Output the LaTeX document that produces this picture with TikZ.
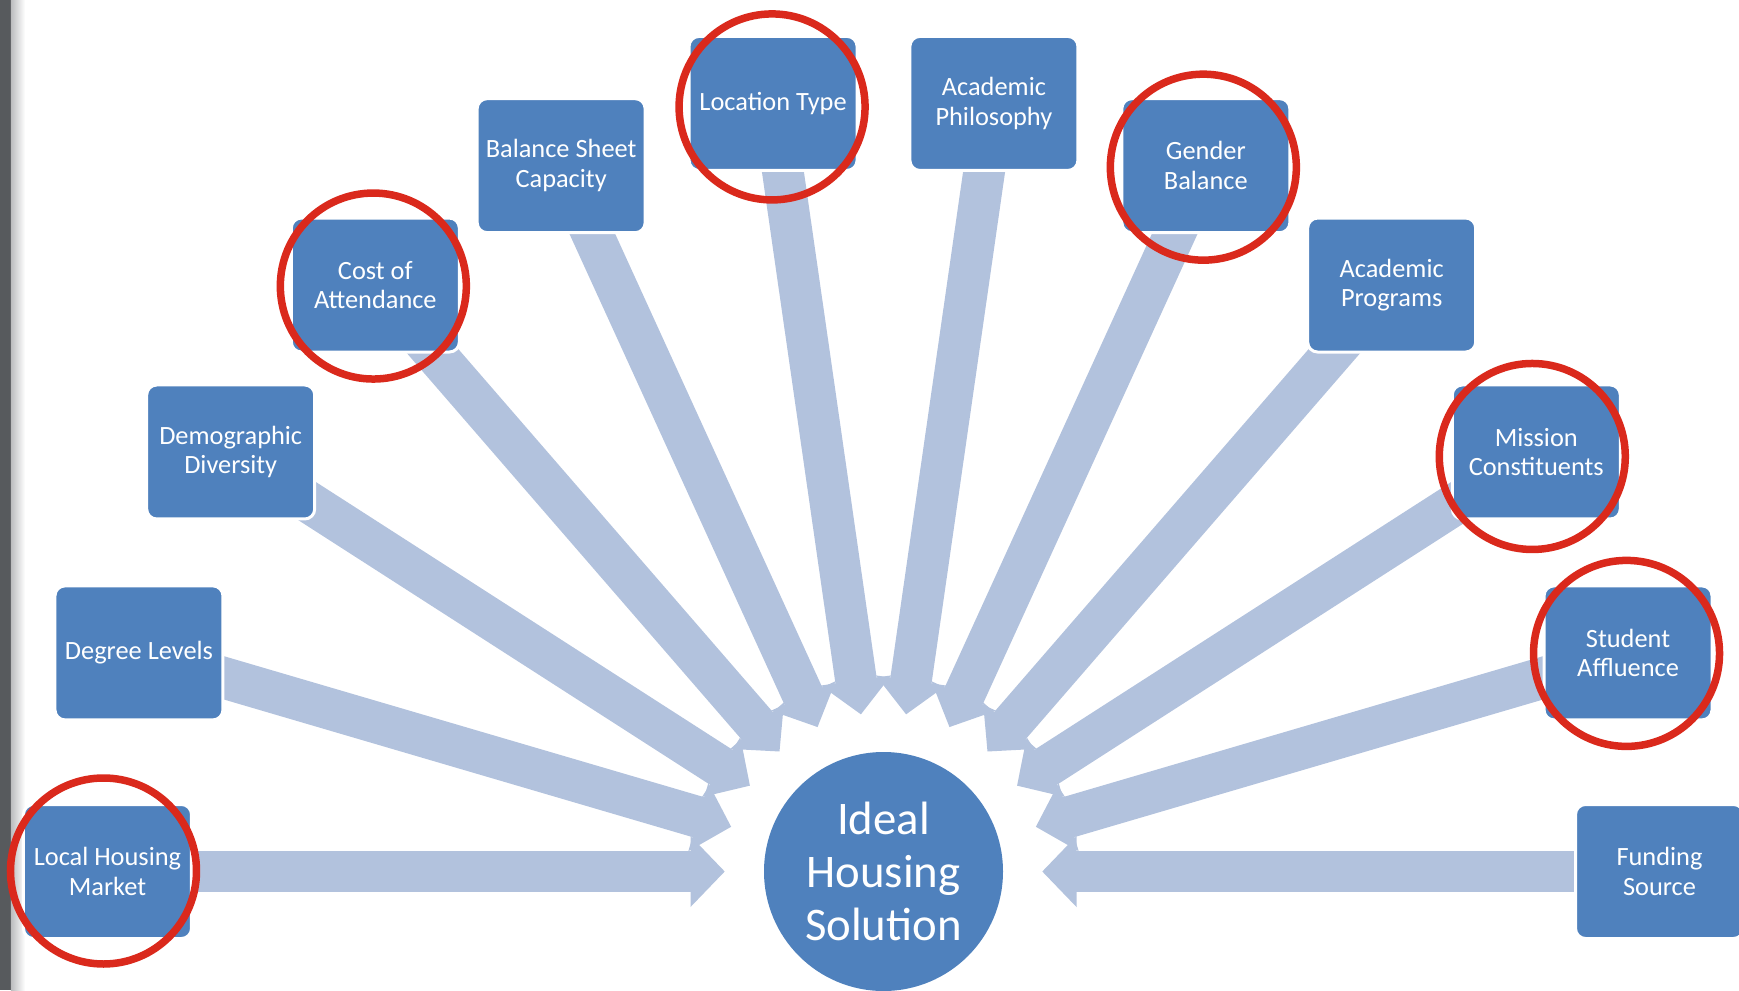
\documentclass[tikz,border=0pt]{standalone}
\usepackage{fontspec}
\setmainfont{Carlito}
\usetikzlibrary{arrows.meta,backgrounds}
\definecolor{factorblue}{RGB}{79,129,189}
\definecolor{spokeblue}{RGB}{178,194,221}
\definecolor{markred}{RGB}{218,41,28}
\definecolor{margingray}{RGB}{87,90,93}

\begin{document}
\begin{tikzpicture}[
    factor box/.style={rectangle, rounded corners=1mm, fill=factorblue, draw=white, line width=0.3mm,
      minimum width=1.68cm, minimum height=1.34cm, inner sep=1pt, align=center, text=white,
      font=\fontsize{7.5}{8.4}\selectfont},
    hub/.style={circle, fill=factorblue, minimum size=2.39cm, inner sep=0pt, align=center, text=white,
      font=\fontsize{13.3}{15.1}\selectfont},
    spoke/.style={draw=spokeblue, line width=4.16mm, -{Triangle[length=3.43mm,width=6.9mm]}, shorten >=3.85mm},
    mark ring/.style={draw=markred, line width=0.75mm}]
	\useasboundingbox (-8.835,-1.185) rectangle (8.555,8.715);

	% Dark page edge on the left.
	\fill [margingray] (-8.835,-1.185) rectangle (-8.725,8.715);
	\shade [left color=margingray!40, right color=white] (-8.725,-1.185) rectangle (-8.585,8.715);

	\node [hub] (hub) at (0,0) {Ideal\\Housing\\Solution};

	% Twelve factors on a half circle, 180/11 degrees apart.
	\foreach \i/\lbl in {0/{Local Housing\\Market}, 1/{Degree Levels}, 2/{Demographic\\Diversity},
	    3/{Cost of\\Attendance}, 4/{Balance Sheet\\Capacity}, 5/{Location Type},
	    6/{Academic\\Philosophy}, 7/{Gender\\Balance}, 8/{Academic\\Programs},
	    9/{Mission\\Constituents}, 10/{Student\\Affluence}, 11/{Funding\\Source}}
	  \node [factor box] (f\i) at ({180-\i*180/11}:7.76) {\lbl};

	% Block arrows go under the boxes.
	\begin{scope}[on background layer]
	  \foreach \i in {0,...,11}
	    \draw [spoke] (f\i.center) -- (hub);
	\end{scope}

	% Hand drawn rings.
	\foreach \i/\dx/\dy in {0/-0.04/0.005, 3/-0.02/-0.01, 5/-0.01/-0.035,
	    7/-0.025/-0.015, 9/-0.04/-0.045, 10/-0.015/-0.005}
	  \draw [mark ring] ([shift={(\dx,\dy)}]f\i.center) circle (0.93);
\end{tikzpicture}
\end{document}
